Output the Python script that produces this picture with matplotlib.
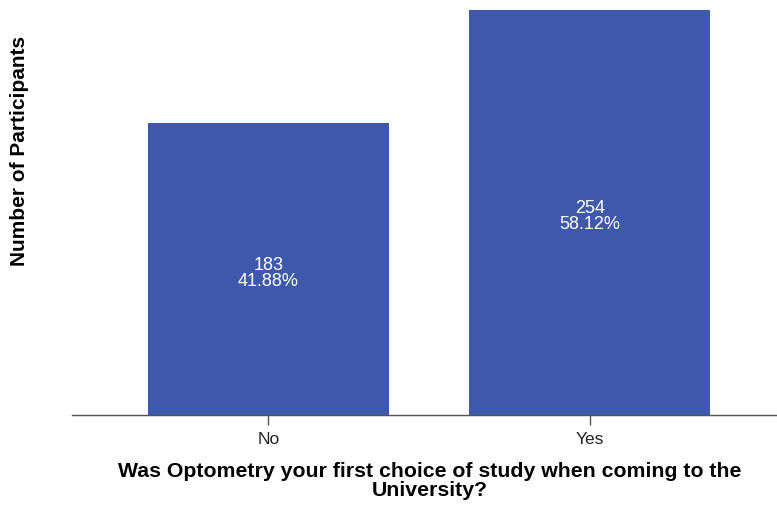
import matplotlib
matplotlib.use("Agg")
from matplotlib import pyplot as plt

categories = ["No", "Yes"]
counts = [183, 254]
percents = [41.88, 58.12]

plt.rcParams["font.family"] = ["Liberation Sans", "DejaVu Sans"]

W, H = 777, 506
fig = plt.figure(figsize=(W / 100, H / 100), dpi=100)
ax = fig.add_axes([72 / W, (H - 416) / H, 1 - 72 / W, (416 - 11) / H])

x = list(range(len(categories)))
bars = ax.bar(x, counts, width=0.75, color="#3E58AC", zorder=2)
for b, c, p in zip(bars, counts, percents):
    ax.text(b.get_x() + b.get_width() / 2, c / 2 - 2, f"{c}\n{p:.2f}%",
            ha="center", va="center", color="white", fontsize=13, linespacing=0.95)

ax.set_xlim(-0.611, 1.582)
ax.set_ylim(0, 254)
ax.set_xticks(x)
ax.set_xticklabels(categories, fontsize=12.5, color="#222222")
ax.tick_params(axis="x", length=7, width=1, color="#555555", pad=4.5)
ax.set_yticks([])
for s in ["top", "right", "left"]:
    ax.spines[s].set_visible(False)
ax.spines["bottom"].set_color("#555555")
ax.spines["bottom"].set_linewidth(1)

fig.text(20 / W, 1 - 151 / H, "Number of Participants", rotation=90,
         ha="center", va="center", fontsize=15, fontweight="bold")
fig.text(430 / W, 1 - 481 / H,
         "Was Optometry your first choice of study when coming to the\nUniversity?",
         ha="center", va="center", fontsize=15.3, fontweight="bold", linespacing=1.0)

plt.savefig("out.png", dpi=100)
